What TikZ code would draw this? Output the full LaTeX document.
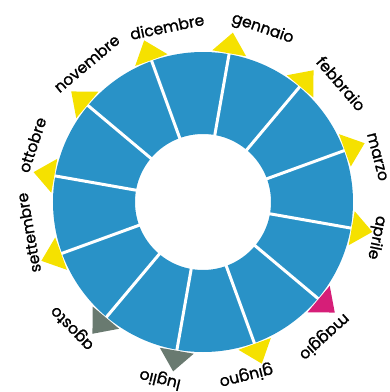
\documentclass[tikz,border=0pt]{standalone}
\usepackage{fontspec}
\setmainfont{Poppins}
\newfontfamily\monthfont{Poppins}[FakeBold=1.2]
\definecolor{ringblue}{RGB}{41,146,199}
\definecolor{marky}{RGB}{245,225,0}
\definecolor{markm}{RGB}{214,30,120}
\definecolor{markg}{RGB}{105,122,112}
\begin{document}
\begin{tikzpicture}[x=1pt,y=1pt,
  month/.style={font=\monthfont\fontsize{15.5}{17}\selectfont, inner sep=0pt},
  sep/.style={white, line width=3pt}]
\useasboundingbox (-203,-190) rectangle (187,202);
% ring
\fill[ringblue, even odd rule] (0,0) circle (150) (0,0) circle (68);
% separators
\foreach \a in {80,50,20,-10,-40,-70,-100,-130,-160,170,140,110}
  \draw[sep] (\a:66) -- (\a:152);
% markers
\foreach \a/\c in {80/marky,50/marky,20/marky,-10/marky,-40/markm,-70/marky,-100/markg,-130/markg,-160/marky,170/marky,140/marky,110/marky}
  \fill[\c] ({\a+6.5}:152) -- (\a:172) -- ({\a-6.5}:152) -- cycle;
% labels
\foreach \n/\a/\r in {gennaio/71/183,febbraio/40.6/182,marzo/14.5/180,aprile/-11.6/177,maggio/-48/181,giugno/-76/179,luglio/-103.6/182,agosto/-136/181,settembre/190/177,ottobre/161.5/180,novembre/130/181,dicembre/101.6/179}
  \node[month, rotate={\a-90}] (l\n) at (\a:\r) {\n};
\end{tikzpicture}
\end{document}
